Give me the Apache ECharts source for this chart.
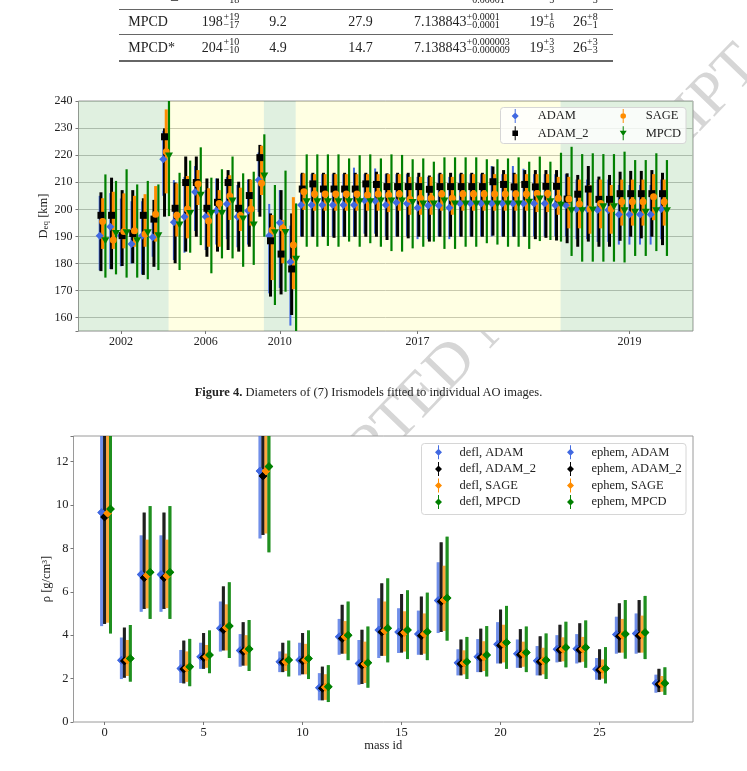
<!DOCTYPE html>
<html>
<head>
<meta charset="utf-8">
<title>Diameters and densities</title>
<script src="https://cdn.jsdelivr.net/npm/echarts@6.0.0/dist/echarts.min.js"></script>
<style>
  body { margin: 0; background: #fff; }
  #page { position: relative; width: 747px; height: 771px; overflow: hidden; background: #fff;
          font-family: 'Liberation Serif', 'DejaVu Serif', serif; color: #222; }
  #wm { position: absolute; left: 496px; top: 313px; z-index: 0;
        transform: translate(-50%, -50%) rotate(-46deg);
        font-size: 61px; line-height: 1; color: #d6d6d6; white-space: nowrap; }
  #chart { position: absolute; left: 0; top: 0; width: 747px; height: 771px; z-index: 1; }
  .t { position: absolute; z-index: 2; white-space: nowrap; font-size: 14px; line-height: 14px; }
  .s { position: absolute; z-index: 2; white-space: nowrap; font-size: 10px; line-height: 10px; }
  .rule { position: absolute; z-index: 2; left: 119px; width: 494px; background: #666; }
  #cap { position: absolute; z-index: 2; left: 68px; width: 601px; top: 385px; text-align: center;
         font-size: 12.5px; line-height: 14px; white-space: nowrap; }
</style>
</head>
<body>
<div id="page">
  <div id="wm">ACCEPTED MANUSCRIPT</div>
  <div id="chart"></div>

  <!-- table (end of previous page table) -->
  <div class="t" style="left:128.3px;top:-12px">ADAM_2</div>
  <div class="s" style="left:223.5px;top:-5.5px">−18</div>
  <div class="s" style="left:466.5px;top:-5.5px">−0.00001</div>
  <div class="s" style="left:543.5px;top:-5.5px">−5</div>
  <div class="s" style="left:587px;top:-5.5px">−3</div>
  <div class="rule" style="top:9px;height:1px"></div>

  <div class="t" style="left:128.3px;top:15.3px">MPCD</div>
  <div class="t" style="left:201.7px;top:15.3px">198</div>
  <div class="s" style="left:223.5px;top:11.6px">+19</div>
  <div class="s" style="left:223.5px;top:19.9px">−17</div>
  <div class="t" style="left:269.3px;top:15.3px">9.2</div>
  <div class="t" style="left:348.3px;top:15.3px">27.9</div>
  <div class="t" style="left:414px;top:15.3px">7.138843</div>
  <div class="s" style="left:466.5px;top:11.6px">+0.0001</div>
  <div class="s" style="left:466.5px;top:19.9px">−0.0001</div>
  <div class="t" style="left:529.5px;top:15.3px">19</div>
  <div class="s" style="left:543.5px;top:11.6px">+1</div>
  <div class="s" style="left:543.5px;top:19.9px">−6</div>
  <div class="t" style="left:573px;top:15.3px">26</div>
  <div class="s" style="left:587px;top:11.6px">+8</div>
  <div class="s" style="left:587px;top:19.9px">−1</div>
  <div class="rule" style="top:34px;height:1px"></div>

  <div class="t" style="left:128.3px;top:40.8px">MPCD*</div>
  <div class="t" style="left:201.7px;top:40.8px">204</div>
  <div class="s" style="left:223.5px;top:37.1px">+10</div>
  <div class="s" style="left:223.5px;top:45.4px">−10</div>
  <div class="t" style="left:269.3px;top:40.8px">4.9</div>
  <div class="t" style="left:348.3px;top:40.8px">14.7</div>
  <div class="t" style="left:414px;top:40.8px">7.138843</div>
  <div class="s" style="left:466.5px;top:37.1px">+0.000003</div>
  <div class="s" style="left:466.5px;top:45.4px">−0.000009</div>
  <div class="t" style="left:529.5px;top:40.8px">19</div>
  <div class="s" style="left:543.5px;top:37.1px">+3</div>
  <div class="s" style="left:543.5px;top:45.4px">−3</div>
  <div class="t" style="left:573px;top:40.8px">26</div>
  <div class="s" style="left:587px;top:37.1px">+3</div>
  <div class="s" style="left:587px;top:45.4px">−3</div>
  <div class="rule" style="top:60px;height:1.5px"></div>

  <div id="cap"><b>Figure 4.</b> Diameters of (7) Irismodels fitted to individual AO images.</div>
</div>

<script>
// ---------- top panel: D_eq per AO image ----------
var imageIdx = [];
for (var k = 0; k < 54; k++) imageIdx.push(k);

var yearTicks = [2, 10, 17, 30, 50];
var yearLabels = ['2002', '2006', '2010', '2017', '2019'];
// epoch boundaries (image index) for the shaded bands
var epochEdges = [-2, 6.5, 15.5, 18.5, 43.5, 56];

var adamD = [
  190.3, 193.6, 190.3, 187.2, 190.3, 189.7, 218.5, 195.2, 197.3, 206.4,
  197.3, 199.5, 202.0, 197.3, 199.5, 210.8, 190.3, 195.1, 180.6, 201.6,
  201.6, 201.6, 201.6, 201.6, 201.6, 203.3, 203.1, 201.6, 202.5, 202.2,
  200.6, 201.4, 201.4, 200.6, 202.2, 202.2, 202.2, 202.2, 202.2, 202.2,
  202.2, 202.2, 202.2, 201.5, 201.5, 200.1, 200.1, 199.8, 199.8, 198.1,
  198.1, 198.1, 198.1, 200.1];
var adamLo = [
  177.5, 178, 179, 180, 176, 182.5, 205, 181.3, 184, 192,
  185, 187, 189, 186, 187, 199, 169, 171, 157.1, 190,
  190, 190, 190, 190, 190, 191, 191, 190, 190, 190,
  189, 189, 190, 189, 190, 190, 190, 190, 190, 190,
  190, 190, 190, 190, 190, 189, 189, 188, 188, 187,
  187, 187, 187, 189];
var adamHi = [
  205, 206, 204, 203, 203, 197.3, 229, 210.8, 212, 216,
  207.1, 211.4, 212, 209, 211, 221, 202, 207.1, 194, 213,
  213, 213, 213, 213, 215.4, 213, 215.1, 213, 213, 213,
  212, 212, 213, 212, 213, 213, 213, 216, 213, 216,
  215, 213, 213, 213, 213, 211, 211, 211, 211, 209,
  209, 209, 209, 211];

var adam2D = [
  197.8, 197.8, 190.3, 191.1, 197.8, 196.4, 226.8, 200.4, 209.9, 209.9,
  200.4, 202.6, 209.9, 200.4, 205.1, 219.1, 188.4, 183.5, 178.0, 207.5,
  209.4, 207.5, 207.5, 207.5, 207.5, 209.4, 209.2, 208.4, 208.4, 208.4,
  208.4, 207.4, 208.4, 208.4, 208.4, 208.4, 208.4, 210.2, 209.2, 208.3,
  209.2, 208.3, 208.5, 208.5, 203.8, 205.6, 207.5, 203.7, 203.7, 205.8,
  205.8, 205.8, 205.8, 205.8];
var adam2Lo = [
  177.2, 177.9, 179.1, 180.1, 175.8, 178.8, 197.3, 180.1, 184.4, 189.9,
  182.5, 184.4, 185.0, 184.4, 186.2, 197.3, 167.8, 168.6, 161.0, 189.9,
  189.9, 189.9, 189.5, 189.9, 189.9, 189.9, 189.9, 188.7, 189.9, 189.3,
  189.9, 188.1, 189.9, 189.9, 189.9, 189.9, 189.9, 190.3, 189.9, 189.9,
  189.9, 189.0, 189.5, 188.5, 187.5, 186.2, 188.1, 186.2, 186.2, 188.4,
  189.9, 189.3, 189.9, 186.8];
var adam2Hi = [
  206.3, 211.7, 207.1, 207.1, 204.1, 203.5, 229.9, 209.9, 219.5, 219.5,
  211.4, 211.4, 214.5, 210.2, 211.1, 223.8, 198.5, 207.1, 198.5, 213.5,
  213.5, 213.5, 213.5, 213.5, 213.5, 213.5, 213.9, 213.3, 213.5, 213.5,
  213.5, 212.5, 213.5, 213.5, 213.5, 213.5, 213.5, 215.8, 214.5, 213.5,
  214.5, 214.5, 214.5, 214.5, 213.3, 212.7, 216.0, 212.1, 212.7, 213.9,
  214.2, 214.2, 214.5, 213.5];

var sageD = [
  195.5, 188.7, 191.8, 192.1, 190.9, 198.2, 221.3, 197.8, 200.1, 209.4,
  195.7, 202.2, 204.9, 197.7, 200.1, 209.6, 192.4, 193.0, 186.8, 206.5,
  205.7, 205.7, 205.7, 205.7, 205.7, 205.3, 205.7, 205.3, 205.7, 203.7,
  204.1, 204.1, 205.7, 204.1, 205.7, 205.7, 205.7, 205.7, 205.7, 205.7,
  205.7, 205.9, 205.9, 204.1, 203.8, 202.0, 200.1, 202.2, 200.1, 202.8,
  202.8, 202.8, 204.7, 202.8];
var sageLo = [
  185.4, 185.4, 185.6, 186.2, 186.2, 188.1, 205.9, 190.0, 189.3, 201.6,
  186.2, 186.2, 196.1, 192.0, 194.0, 205.3, 173.9, 180.1, 170.5, 199.8,
  199.5, 199.5, 199.5, 199.5, 199.5, 199.5, 199.5, 199.0, 199.5, 198.0,
  198.0, 198.0, 199.5, 198.0, 199.5, 199.5, 199.5, 199.5, 199.5, 199.5,
  199.5, 199.0, 199.0, 198.0, 193.0, 193.0, 191.0, 193.0, 191.0, 194.0,
  194.0, 194.0, 196.0, 194.0];
var sageHi = [
  204.1, 206.5, 205.9, 205.0, 205.6, 208.6, 236.9, 209.6, 212.3, 214.5,
  207.8, 207.1, 212.6, 208.0, 211.0, 223.5, 197.9, 196.1, 204.5, 213.3,
  213, 213, 213, 213, 213, 213, 213, 213, 213, 212,
  212, 212, 213, 212, 213, 213, 213, 213, 213, 213,
  213, 213, 213, 212, 212, 211, 209, 211, 209, 211,
  211, 211, 213, 211];

var mpcdD = [
  188.4, 191.1, 191.4, 188.4, 191.4, 190.3, 219.7, 194.2, 198.5, 205.2,
  198.5, 198.5, 203.1, 196.4, 194.2, 212.3, 191.4, 191.5, 181.6, 202.8,
  202.8, 202.8, 202.8, 202.8, 202.8, 202.8, 203.1, 203.1, 203.1, 202.5,
  202.0, 202.0, 203.1, 202.0, 202.0, 202.0, 202.0, 202.0, 202.0, 202.0,
  202.6, 203.8, 202.8, 201.5, 199.5, 199.5, 199.8, 201.0, 201.0, 199.5,
  198.9, 198.9, 199.5, 199.5];
var mpcdLo = [
  174.8, 176.0, 174.8, 174.8, 174.2, 177.6, 197.5, 177.6, 184.0, 186.8,
  176.4, 181.9, 181.9, 178.8, 179.5, 189.9, 164.7, 169.6, 148.0, 186.2,
  186.2, 186.5, 186.2, 188.1, 186.2, 187.5, 186.2, 184.6, 184.4, 185.6,
  186.2, 188.1, 185.4, 185.4, 186.2, 186.2, 187.5, 187.0, 186.2, 186.2,
  185.4, 188.3, 188.7, 188.1, 182.8, 180.7, 180.7, 180.7, 180.7, 180.4,
  182.8, 182.8, 184.6, 182.8];
var mpcdHi = [
  212.9, 210.5, 214.8, 209.2, 210.5, 209.2, 245.0, 213.5, 218.0, 222.9,
  211.7, 214.8, 219.5, 213.3, 213.9, 227.7, 209.0, 214.3, 202.2, 220.3,
  220.3, 220.3, 220.3, 218.8, 220.0, 220.3, 218.8, 220.3, 220.1, 218.5,
  218.8, 217.6, 219.2, 219.2, 219.2, 219.2, 218.5, 218.5, 218.8, 219.2,
  217.6, 219.5, 217.6, 220.9, 223.1, 220.4, 220.7, 220.4, 220.4, 221.3,
  218.2, 218.2, 220.7, 218.2];

// ---------- bottom panel: bulk density per mass estimate ----------
var massIds = [0, 1, 2, 3, 4, 5, 6, 7, 8, 9, 10, 11, 12, 13, 14,
  15, 16, 17, 18, 19, 20, 21, 22, 23, 24, 25, 26, 27, 28];
var massTicks = [0, 5, 10, 15, 20, 25];

var rhoAdam = [9.66, 2.84, 6.80, 6.80, 2.47, 3.01, 4.32, 3.29, 11.57, 2.78, 2.86, 1.58, 3.93, 2.70, 4.24,
  4.15, 4.06, 5.60, 2.73, 3.01, 3.58, 3.15, 2.82, 3.35, 3.38, 2.43, 4.03, 4.08, 1.78];
var rhoAdamLo = [4.42, 1.98, 5.08, 5.08, 1.80, 2.45, 3.25, 2.55, 8.46, 2.30, 2.15, 1.00, 3.10, 1.72, 2.95,
  3.18, 3.10, 4.10, 2.15, 2.30, 2.70, 2.50, 2.15, 2.75, 2.70, 1.95, 3.15, 3.15, 1.35];
var rhoAdamHi = [15, 3.89, 8.60, 8.60, 3.32, 3.65, 5.55, 4.05, 15, 3.25, 3.65, 2.25, 4.75, 3.78, 5.70,
  5.24, 5.13, 7.36, 3.35, 3.82, 4.60, 3.80, 3.50, 4.00, 4.05, 2.95, 4.85, 5.00, 2.18];

var rhoAdam2 = [9.45, 2.81, 6.65, 6.65, 2.44, 2.97, 4.25, 3.25, 11.34, 2.75, 2.82, 1.56, 3.85, 2.62, 4.15,
  4.08, 3.98, 5.55, 2.68, 2.97, 3.52, 3.10, 2.78, 3.32, 3.32, 2.40, 3.95, 3.98, 1.74];
var rhoAdam2Lo = [4.52, 2.04, 5.21, 5.21, 1.78, 2.45, 3.30, 2.60, 8.62, 2.30, 2.20, 1.00, 3.15, 1.75, 3.05,
  3.20, 3.10, 4.15, 2.15, 2.30, 2.70, 2.50, 2.15, 2.78, 2.75, 1.95, 3.20, 3.20, 1.38];
var rhoAdam2Hi = [15, 4.35, 9.65, 9.65, 3.75, 4.10, 6.25, 4.60, 15, 3.65, 4.10, 2.55, 5.40, 4.25, 6.39,
  5.90, 5.78, 8.28, 3.80, 4.30, 5.18, 4.28, 3.95, 4.48, 4.55, 3.35, 5.47, 5.62, 2.45];

var rhoSage = [9.62, 2.86, 6.76, 6.74, 2.49, 3.01, 4.35, 3.30, 11.57, 2.78, 2.86, 1.60, 3.93, 2.67, 4.20,
  4.12, 4.05, 5.62, 2.72, 3.00, 3.60, 3.15, 2.82, 3.35, 3.36, 2.43, 4.00, 4.03, 1.76];
var rhoSageLo = [4.58, 2.12, 5.24, 5.25, 1.85, 2.50, 3.30, 2.60, 8.69, 2.35, 2.20, 1.02, 3.15, 1.80, 3.05,
  3.25, 3.15, 4.20, 2.20, 2.35, 2.75, 2.55, 2.20, 2.80, 2.78, 2.00, 3.20, 3.20, 1.40];
var rhoSageHi = [15, 3.78, 8.40, 8.40, 3.25, 3.55, 5.42, 4.00, 15, 3.15, 3.60, 2.20, 4.65, 3.70, 5.55,
  5.10, 5.00, 7.20, 3.30, 3.72, 4.48, 3.70, 3.42, 3.90, 3.92, 2.88, 4.75, 4.90, 2.12];

var rhoMpcd = [9.82, 2.93, 6.90, 6.90, 2.55, 3.09, 4.42, 3.36, 11.77, 2.86, 2.93, 1.63, 4.00, 2.73, 4.32,
  4.24, 4.16, 5.72, 2.78, 3.09, 3.66, 3.20, 2.86, 3.43, 3.43, 2.47, 4.06, 4.12, 1.78];
var rhoMpcdLo = [4.08, 1.86, 4.75, 4.75, 1.65, 2.25, 2.95, 2.35, 7.82, 2.10, 1.98, 0.92, 2.85, 1.58, 2.75,
  2.90, 2.85, 3.75, 1.98, 2.10, 2.45, 2.30, 1.98, 2.52, 2.50, 1.78, 2.92, 2.90, 1.25];
var rhoMpcdHi = [15, 4.47, 9.95, 9.95, 3.83, 4.22, 6.44, 4.70, 15, 3.75, 4.22, 2.62, 5.55, 4.40, 6.62,
  6.07, 5.96, 8.54, 3.92, 4.42, 5.35, 4.40, 4.08, 4.62, 4.68, 3.45, 5.62, 5.81, 2.52];

// ---------- drawing ----------
var serif = "'Liberation Serif', 'DejaVu Serif', serif";
var BLUE = '#4169e1', BLACK = '#000000', ORANGE = '#ff8c00', GREEN = '#008000';

// legend handles: errorbar line + marker
var LINE = 'M4.3,0 L5.7,0 L5.7,20 L4.3,20 Z ';
var ICON_DIAMOND = 'path://' + LINE + 'M5,5 L10,10 L5,15 L0,10 Z';
var ICON_SQUARE = 'path://' + LINE + 'M1,6 L9,6 L9,14 L1,14 Z';
var ICON_CIRCLE = 'path://' + LINE + 'M1,10 A4,4 0 1,1 9,10 A4,4 0 1,1 1,10 Z';
var ICON_TRI = 'path://' + LINE + 'M0,6.5 L10,6.5 L5,14 Z';

function errorBars(name, grid, xs, vals, lo, hi, offset, width, color) {
  return {
    type: 'custom',
    name: name,
    xAxisIndex: grid,
    yAxisIndex: grid,
    clip: true,
    silent: true,
    animation: false,
    itemStyle: { color: color },
    encode: { x: 0, y: [1, 2, 3] },
    data: xs.map(function (x, i) { return [x + offset, vals[i], lo[i], hi[i]]; }),
    renderItem: function (params, api) {
      var x = api.value(0);
      var a = api.coord([x, api.value(2)]);
      var b = api.coord([x, api.value(3)]);
      return {
        type: 'line',
        shape: { x1: a[0], y1: a[1], x2: b[0], y2: b[1] },
        style: { stroke: color, lineWidth: width }
      };
    }
  };
}

function markers(name, grid, xs, vals, offset, symbol, size, color, rotate) {
  return {
    type: 'scatter',
    name: name,
    xAxisIndex: grid,
    yAxisIndex: grid,
    silent: true,
    animation: false,
    symbol: symbol,
    symbolSize: size,
    symbolRotate: rotate || 0,
    itemStyle: { color: color, opacity: 1 },
    data: xs.map(function (x, i) { return [x + offset, vals[i]]; })
  };
}

function legendItem(name, icon, color) {
  return { name: name, icon: icon, itemStyle: { color: color, opacity: 1, borderWidth: 0 } };
}

var tickText = { fontFamily: serif, fontSize: 12, color: '#222' };
var noLine = { show: false, onZero: false };

// shaded epochs (green / yellow alternate)
var epochBands = [];
for (var e = 0; e < epochEdges.length - 1; e++) {
  epochBands.push([
    { xAxis: epochEdges[e], itemStyle: { color: e % 2 === 0 ? 'rgba(0,128,0,0.12)' : 'rgba(255,255,0,0.11)' } },
    { xAxis: epochEdges[e + 1] }
  ]);
}

var series = [{
  type: 'line', name: 'epochs', xAxisIndex: 0, yAxisIndex: 0, data: [], silent: true,
  markArea: { silent: true, data: epochBands }
}];

// top: ADAM, ADAM_2, SAGE, MPCD
series.push(errorBars('ADAM', 0, imageIdx, adamD, adamLo, adamHi, 0, 2, BLUE));
series.push(markers('ADAM', 0, imageIdx, adamD, 0, 'diamond', 8, BLUE));
series.push(errorBars('ADAM_2', 0, imageIdx, adam2D, adam2Lo, adam2Hi, 0.12, 3, BLACK));
series.push(markers('ADAM_2', 0, imageIdx, adam2D, 0.12, 'rect', 7, BLACK));
series.push(errorBars('SAGE', 0, imageIdx, sageD, sageLo, sageHi, 0.28, 3, ORANGE));
series.push(markers('SAGE', 0, imageIdx, sageD, 0.28, 'circle', 7, ORANGE));
series.push(errorBars('MPCD', 0, imageIdx, mpcdD, mpcdLo, mpcdHi, 0.54, 2.2, GREEN));
series.push(markers('MPCD', 0, imageIdx, mpcdD, 0.54, 'triangle', [8, 7], GREEN, 180));

// bottom: defl + ephem for each model (drawn on top of each other)
var models = [
  { key: 'ADAM', v: rhoAdam, lo: rhoAdamLo, hi: rhoAdamHi, off: -0.15, color: BLUE, bar: 'rgba(65,105,225,0.5)' },
  { key: 'ADAM_2', v: rhoAdam2, lo: rhoAdam2Lo, hi: rhoAdam2Hi, off: 0, color: BLACK, bar: 'rgba(0,0,0,0.65)' },
  { key: 'SAGE', v: rhoSage, lo: rhoSageLo, hi: rhoSageHi, off: 0.15, color: ORANGE, bar: 'rgba(255,140,0,0.5)' },
  { key: 'MPCD', v: rhoMpcd, lo: rhoMpcdLo, hi: rhoMpcdHi, off: 0.3, color: GREEN, bar: 'rgba(0,128,0,0.65)' }
];
models.forEach(function (m) {
  series.push(errorBars('defl, ' + m.key, 1, massIds, m.v, m.lo, m.hi, m.off, 3, m.bar));
  series.push(errorBars('ephem, ' + m.key, 1, massIds, m.v, m.lo, m.hi, m.off, 3, m.bar));
  series.push(markers('defl, ' + m.key, 1, massIds, m.v, m.off, 'diamond', 8.5, m.color));
  series.push(markers('ephem, ' + m.key, 1, massIds, m.v, m.off, 'diamond', 8.5, m.color));
});

// legend column: label pushed right with a left padding, like matplotlib's handle gap
function legendColumn(left, top, gap, textGap, items) {
  return {
    orient: 'vertical', left: left, top: top, padding: 0, selectedMode: false,
    itemWidth: 8, itemHeight: 14, itemGap: gap,
    textStyle: { fontFamily: serif, fontSize: 12.5, color: '#222', padding: [0, 0, 0, textGap] },
    data: items
  };
}

var option = {
  animation: false,
  grid: [
    { left: 78.5, top: 101, width: 614.5, height: 230, show: true, backgroundColor: '#fff',
      borderColor: '#9a9a9a', borderWidth: 1 },
    { left: 73.5, top: 436, width: 619.5, height: 286, show: true, backgroundColor: '#fff',
      borderColor: '#9a9a9a', borderWidth: 1 }
  ],
  xAxis: [{
    gridIndex: 0, type: 'value', min: -2, max: 56,
    axisLine: noLine, splitLine: { show: false },
    axisTick: { show: true, length: 3, lineStyle: { color: '#777' }, customValues: yearTicks },
    axisLabel: Object.assign({
      margin: 5, customValues: yearTicks,
      formatter: function (v) { var i = yearTicks.indexOf(v); return i >= 0 ? yearLabels[i] : ''; }
    }, tickText)
  }, {
    gridIndex: 1, type: 'value', min: -1.57, max: 29.72,
    axisLine: noLine, splitLine: { show: false },
    axisTick: { show: true, length: 3, lineStyle: { color: '#777' }, customValues: massTicks },
    axisLabel: Object.assign({ margin: 4, customValues: massTicks }, tickText, { fontSize: 12.5 }),
    name: 'mass id', nameLocation: 'middle', nameGap: 17, nameMoveOverlap: false,
    nameTextStyle: { fontFamily: serif, fontSize: 12.5, color: '#222' }
  }],
  yAxis: [{
    gridIndex: 0, type: 'value', min: 155.1, max: 240, splitNumber: 8,
    axisLine: noLine,
    axisTick: { show: true, length: 3, lineStyle: { color: '#777' } },
    splitLine: { show: true, lineStyle: { color: '#c4c4c4', width: 1 } },
    axisLabel: Object.assign({
      margin: 6,
      formatter: function (v) { return Math.abs(v % 10) < 1e-6 ? String(v) : ''; }
    }, tickText),
    name: '{m|D}{s|eq}{m| [km]}', nameLocation: 'middle', nameGap: 28, nameMoveOverlap: false,
    nameTextStyle: {
      fontFamily: serif, fontSize: 12.5, color: '#222',
      rich: {
        m: { fontFamily: serif, fontSize: 12.5, color: '#222', lineHeight: 14 },
        s: { fontFamily: serif, fontSize: 9, color: '#222', lineHeight: 9, verticalAlign: 'bottom' }
      }
    }
  }, {
    gridIndex: 1, type: 'value', min: 0, max: 13.18, interval: 2,
    axisLine: noLine, splitLine: { show: false },
    axisTick: { show: true, length: 3, lineStyle: { color: '#777' } },
    axisLabel: Object.assign({
      margin: 5,
      formatter: function (v) { return (Math.abs(v - Math.round(v)) < 1e-6 && Math.round(v) % 2 === 0) ? String(v) : ''; }
    }, tickText, { fontSize: 12.5 }),
    name: 'ρ [g/cm³]', nameLocation: 'middle', nameGap: 20, nameMoveOverlap: false,
    nameTextStyle: { fontFamily: serif, fontSize: 12.5, color: '#222' }
  }],
  legend: [
    legendColumn(511.7, 109, 3.3, 13.5,
      [legendItem('ADAM', ICON_DIAMOND, BLUE), legendItem('ADAM_2', ICON_SQUARE, BLACK)]),
    legendColumn(619.7, 109, 3.3, 13.5,
      [legendItem('SAGE', ICON_CIRCLE, ORANGE), legendItem('MPCD', ICON_TRI, GREEN)]),
    legendColumn(435, 445.3, 2.6, 12,
      models.map(function (m) { return legendItem('defl, ' + m.key, ICON_DIAMOND, m.color); })),
    legendColumn(567, 445.3, 2.6, 12,
      models.map(function (m) { return legendItem('ephem, ' + m.key, ICON_DIAMOND, m.color); }))
  ],
  graphic: [
    { type: 'rect', z: 3, silent: true, shape: { x: 500.5, y: 107.5, width: 185.5, height: 36, r: 3 },
      style: { fill: 'rgba(255,255,255,0.8)', stroke: '#d6d6d6', lineWidth: 1 } },
    { type: 'rect', z: 3, silent: true, shape: { x: 421.5, y: 443.5, width: 264.5, height: 71, r: 3 },
      style: { fill: 'rgba(255,255,255,0.8)', stroke: '#d6d6d6', lineWidth: 1 } }
  ],
  series: series
};

var chart = echarts.init(document.getElementById('chart'), null, { renderer: 'canvas' });
chart.setOption(option);
</script>
</body>
</html>
